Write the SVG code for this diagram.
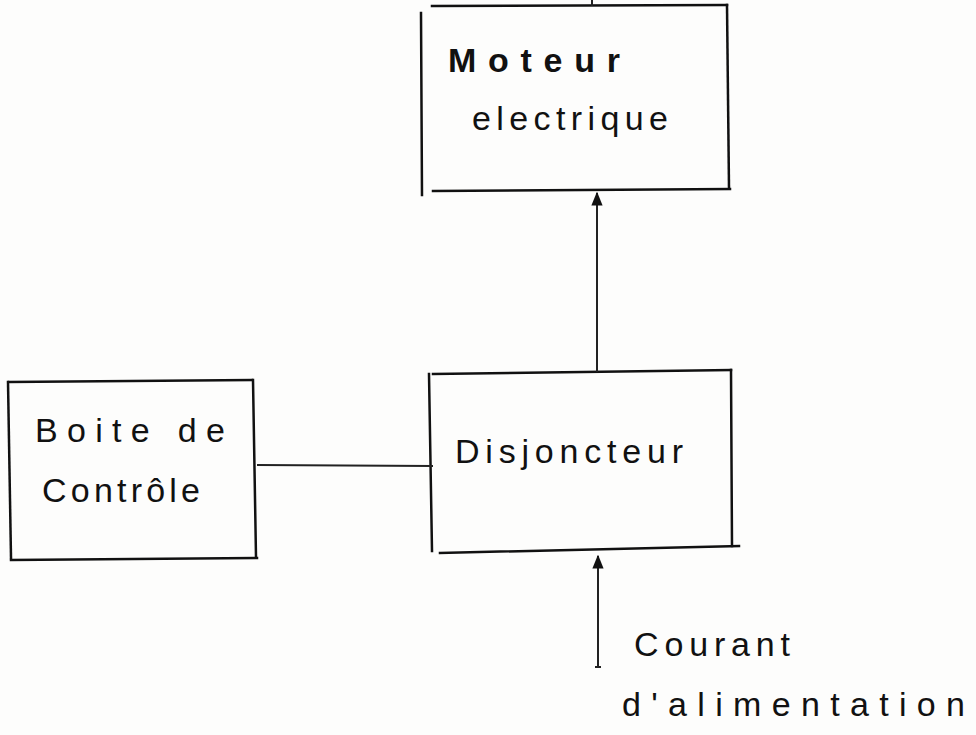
<svg xmlns="http://www.w3.org/2000/svg" width="976" height="735" viewBox="0 0 976 735">
  <defs>
    <style>
      .edge { stroke: #111; stroke-width: 2.5; fill: none; stroke-linecap: square; }
      .wire { stroke: #222; stroke-width: 2; fill: none; }
      .lbl { font-family: "Liberation Sans", "DejaVu Sans", sans-serif; font-size: 34px; fill: #111; }
    </style>
    <marker id="head" viewBox="0 0 10 10" refX="9" refY="5" markerWidth="7" markerHeight="7" orient="auto">
      <path d="M0,1 L10,5 L0,9 z" fill="#111"/>
    </marker>
  </defs>
  <rect width="976" height="735" fill="#fdfdfc"/>

  <g id="moteur">
    <line class="edge" x1="432" y1="6" x2="727" y2="5"/>
    <line class="edge" x1="421" y1="13" x2="422" y2="195"/>
    <line class="edge" x1="727" y1="5" x2="729" y2="188"/>
    <line class="edge" x1="433" y1="191" x2="730" y2="189"/>
    <text class="lbl" x="448" y="72" font-weight="bold" textLength="172" lengthAdjust="spacing">Moteur</text>
    <text class="lbl" x="472" y="130" textLength="196" lengthAdjust="spacing">electrique</text>
  </g>

  <g id="boite">
    <line class="edge" x1="9" y1="382" x2="252" y2="380"/>
    <line class="edge" x1="8" y1="382" x2="11" y2="558"/>
    <line class="edge" x1="253" y1="380" x2="256" y2="557"/>
    <line class="edge" x1="11" y1="560" x2="257" y2="558"/>
    <text class="lbl" x="35" y="442" textLength="190" lengthAdjust="spacing">Boite  de</text>
    <text class="lbl" x="42" y="502" textLength="158" lengthAdjust="spacing">Contrôle</text>
  </g>

  <g id="disjoncteur">
    <line class="edge" x1="433" y1="374" x2="731" y2="370"/>
    <line class="edge" x1="429" y1="374" x2="432" y2="551"/>
    <line class="edge" x1="731" y1="370" x2="732" y2="546"/>
    <line class="edge" x1="440" y1="553" x2="739" y2="546"/>
    <text class="lbl" x="455" y="463" textLength="228" lengthAdjust="spacing">Disjoncteur</text>
  </g>

  <g id="connectors">
    <line class="wire" x1="592" y1="0" x2="592" y2="6"/>
    <line class="wire" x1="597" y1="372" x2="597" y2="193" marker-end="url(#head)"/>
    <line class="wire" x1="257" y1="465" x2="433" y2="466"/>
    <line class="wire" x1="598" y1="668" x2="598" y2="556" marker-end="url(#head)"/>
    <line class="wire" x1="595" y1="667" x2="601" y2="667"/>
  </g>

  <g id="courant">
    <text class="lbl" x="634" y="656" textLength="156" lengthAdjust="spacing">Courant</text>
    <text class="lbl" x="622" y="716" textLength="343" lengthAdjust="spacing">d'alimentation</text>
  </g>
</svg>
